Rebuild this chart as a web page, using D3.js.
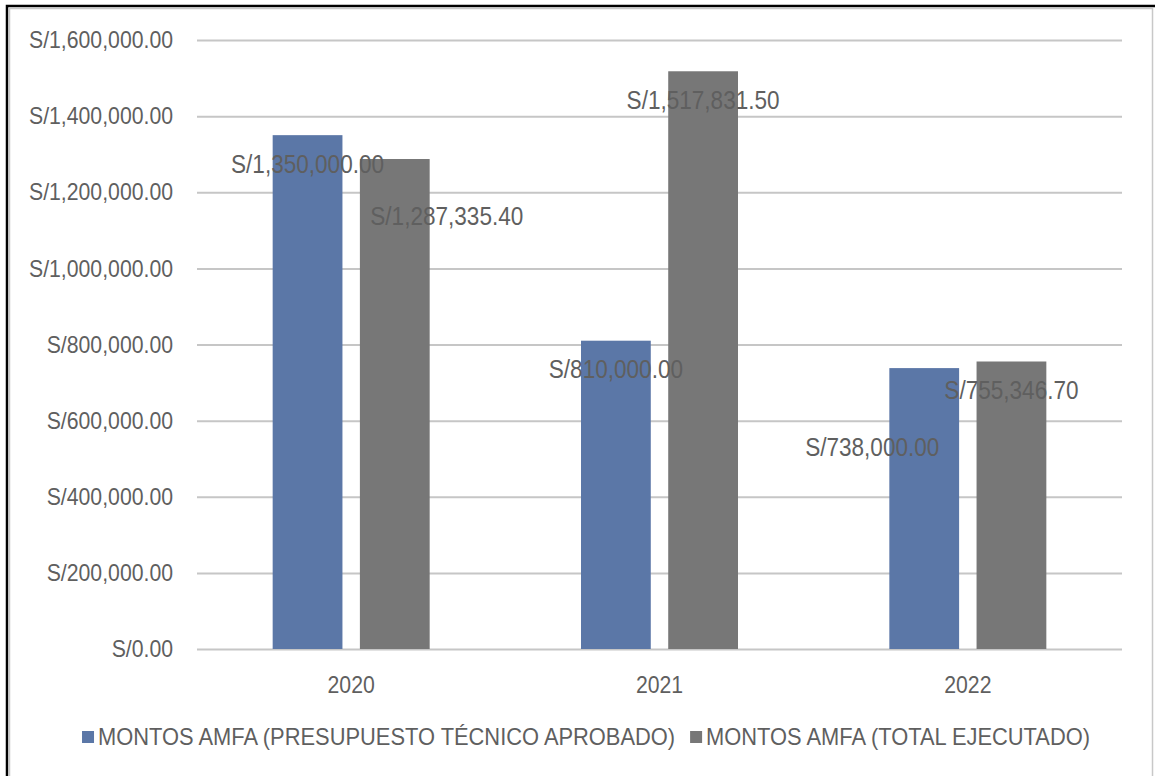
<!DOCTYPE html>
<html>
<head>
<meta charset="utf-8">
<script src="https://cdn.jsdelivr.net/npm/d3@7"></script>
<style>
  body { margin: 0; background: #fff; }
  text { font-family: "Liberation Sans Narrow", "Arial Narrow", "Liberation Sans", sans-serif; fill: #5f5f5f; }
</style>
</head>
<body>
<div id="chart"></div>
<script>
// data
var years = ["2020", "2021", "2022"];
var seriesNames = ["MONTOS AMFA (PRESUPUESTO TÉCNICO APROBADO)", "MONTOS AMFA (TOTAL EJECUTADO)"];
var aprobado = [1350000, 810000, 738000];
var ejecutado = [1287335.40, 1517831.50, 755346.70];
var yTicks = [0, 200000, 400000, 600000, 800000, 1000000, 1200000, 1400000, 1600000];
var colors = ["#5b77a7", "#777777"];

// where excel dropped a couple of the labels (px from the default spot)
var labelNudge = [[[0, 0], [52, 28]], [[0, 0], [0, 0]], [[-52, 50], [0, 0]]];

var width = 1155, height = 776;
var svg = d3.select("#chart").append("svg")
    .attr("width", width)
    .attr("height", height);

// frame
svg.append("rect").attr("x", 7).attr("y", 6).attr("width", 1160).attr("height", 800)
    .attr("fill", "none").attr("stroke", "#000").attr("stroke-width", 2.5);
svg.append("rect").attr("x", 9.5).attr("y", 8.5).attr("width", 1143).attr("height", 800)
    .attr("fill", "none").attr("stroke", "#c8c8c8").attr("stroke-width", 1.5);

var x0 = d3.scaleBand().domain(years).range([197, 1122]);
var x1 = d3.scaleBand().domain([0, 1]).range([0, 157]).paddingInner(0.2);
var groupOffset = (x0.bandwidth() - 157) / 2;
var y = d3.scaleLinear().domain([0, 1600000]).range([649, 40]);

var fmt = function(v){ return "S/" + d3.format(",.2f")(v); };

// no narrow font installed, so squeeze the glyphs like arial narrow
var probe = svg.append("text").attr("font-size", 24).text(fmt(1600000));
var squeezeK = Math.min(1, 144 / probe.node().getComputedTextLength());
probe.remove();
function squeeze(sel, extra){
  var k = squeezeK * (extra || 1);
  sel.each(function(){
    var w = this.getComputedTextLength();
    d3.select(this).attr("textLength", w * k).attr("lengthAdjust", "spacingAndGlyphs");
  });
}

// grid + y labels
var yAxis = d3.axisLeft(y)
    .tickValues(yTicks)
    .tickSize(-(1122 - 197))
    .tickPadding(24)
    .tickFormat(fmt);
var gy = svg.append("g").attr("transform", "translate(197,0)").call(yAxis);
gy.select(".domain").remove();
gy.selectAll(".tick line").attr("stroke", "#c6c6c6").attr("stroke-width", 2);
gy.selectAll(".tick text").attr("font-size", 24).attr("fill", "#5f5f5f").call(squeeze);

// x labels
var xAxis = d3.axisBottom(x0).tickSize(0).tickPadding(27);
var gx = svg.append("g").attr("transform", "translate(0,649)").call(xAxis);
gx.select(".domain").remove();
gx.selectAll(".tick text").attr("font-size", 24).attr("fill", "#5f5f5f").call(squeeze);

var rows = years.map(function(yr, i){
  return { year: yr, i: i, values: [aprobado[i], ejecutado[i]] };
});

var groups = svg.selectAll("g.year")
    .data(rows)
    .enter()
    .append("g")
    .attr("class", "year")
    .attr("transform", function(d){ return "translate(" + (x0(d.year) + groupOffset) + ",0)"; });

groups.selectAll("rect")
    .data(function(d){ return d.values.map(function(v, s){ return { v: v, s: s, i: d.i }; }); })
    .enter()
    .append("rect")
    .attr("x", function(d){ return x1(d.s); })
    .attr("y", function(d){ return y(d.v); })
    .attr("width", x1.bandwidth())
    .attr("height", function(d){ return y(0) - y(d.v); })
    .attr("fill", function(d){ return colors[d.s]; });

groups.selectAll("text.lbl")
    .data(function(d){ return d.values.map(function(v, s){ return { v: v, s: s, i: d.i }; }); })
    .enter()
    .append("text")
    .attr("class", "lbl")
    .attr("x", function(d){ return x1(d.s) + x1.bandwidth() / 2 + labelNudge[d.i][d.s][0]; })
    .attr("y", function(d){ return y(d.v) + 29 + labelNudge[d.i][d.s][1]; })
    .attr("dy", "0.35em")
    .attr("text-anchor", "middle")
    .attr("font-size", 25)
    .attr("fill", "#5f5f5f")
    .text(function(d){ return fmt(d.v); })
    .call(squeeze, 1.02);

// legend
var legend = svg.append("g").attr("transform", "translate(0,737)");
var items = legend.selectAll("g")
    .data(seriesNames)
    .enter()
    .append("g");
items.append("rect")
    .attr("width", 12).attr("height", 12).attr("y", -6)
    .attr("fill", function(d, i){ return colors[i]; });
items.append("text")
    .attr("x", 16)
    .attr("dy", "0.35em")
    .attr("font-size", 24)
    .attr("fill", "#5f5f5f")
    .text(function(d){ return d; })
    .call(squeeze, 1.03);

var widths = [];
items.each(function(){ widths.push(16 + (+this.querySelector("text").getAttribute("textLength"))); });
var gap = 15;
var total = d3.sum(widths) + gap;
var start = 586 - total / 2;
items.attr("transform", function(d, i){
  return "translate(" + (i === 0 ? start : start + widths[0] + gap) + ",0)";
});
</script>
</body>
</html>
